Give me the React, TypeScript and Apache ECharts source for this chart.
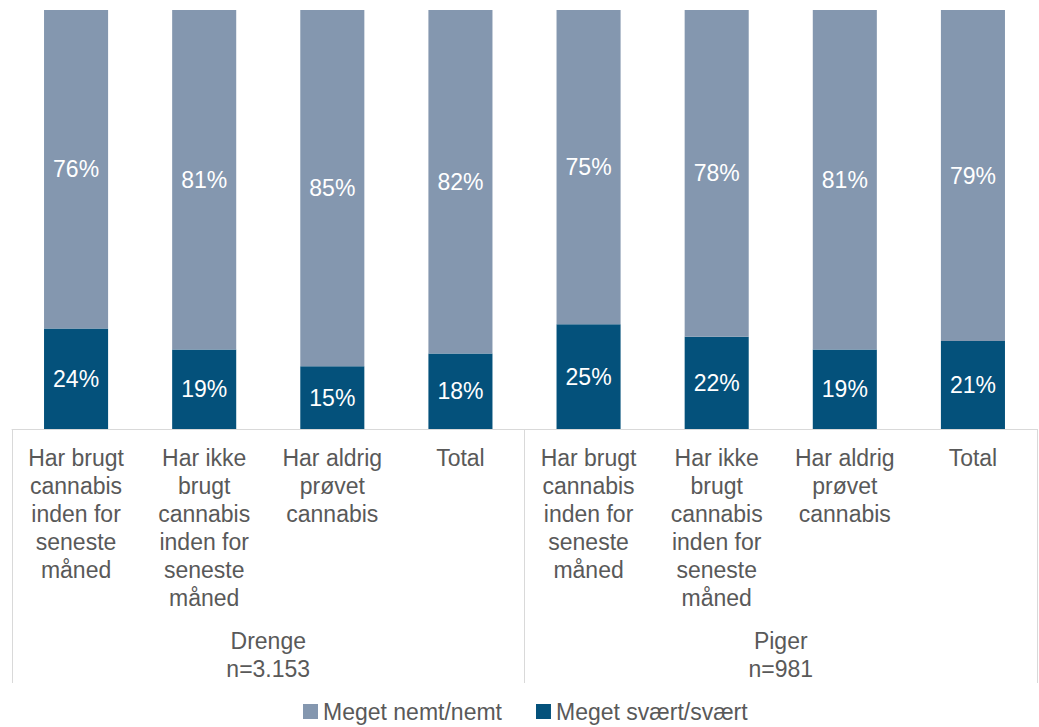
import React, { useEffect, useRef } from "react";
import * as echarts from "echarts";

const categories = [
  "Har brugt\ncannabis\ninden for\nseneste\nmåned",
  "Har ikke\nbrugt\ncannabis\ninden for\nseneste\nmåned",
  "Har aldrig\nprøvet\ncannabis",
  "Total",
  "Har brugt\ncannabis\ninden for\nseneste\nmåned",
  "Har ikke\nbrugt\ncannabis\ninden for\nseneste\nmåned",
  "Har aldrig\nprøvet\ncannabis",
  "Total",
];
const groups = ["Drenge\nn=3.153", "Piger\nn=981"];
const easyValues = [76, 81, 85, 82, 75, 78, 81, 79];
const hardValues = [24, 19, 15, 18, 25, 22, 19, 21];
const seriesNames = ["Meget nemt/nemt", "Meget svært/svært"];

const FONT = "'Liberation Sans', Arial, sans-serif";
const TEXT = "#595959";
const FS = 23;

export default function App() {
  const ref = useRef<HTMLDivElement>(null);
  useEffect(() => {
    if (!ref.current) return;
    const chart = echarts.init(ref.current, undefined, { renderer: "svg" });
    chart.setOption({
      animation: false,
      textStyle: { fontFamily: FONT },
      grid: { left: 12, right: 2, top: 10, bottom: 298, containLabel: false },
      legend: {
        data: seriesNames,
        left: 303,
        top: 700,
        padding: 0,
        icon: "rect",
        itemWidth: 15,
        itemHeight: 15,
        itemGap: 34,
        textStyle: { fontSize: FS, color: TEXT, fontFamily: FONT, padding: [0, 0, 0, 0] },
      },
      xAxis: [
        {
          type: "category",
          data: categories,
          position: "bottom",
          axisLine: { show: true, lineStyle: { color: "#D9D9D9", width: 1 } },
          axisTick: { show: false },
          axisLabel: {
            interval: 0,
            margin: 15,
            fontSize: FS,
            lineHeight: 28,
            color: TEXT,
            fontFamily: FONT,
            verticalAlign: "top",
          },
        },
        {
          type: "category",
          data: groups,
          position: "bottom",
          offset: 0,
          axisLine: { show: false },
          axisTick: { show: true, length: 254, lineStyle: { color: "#D9D9D9", width: 1 } },
          axisLabel: {
            interval: 0,
            margin: 198,
            fontSize: FS,
            lineHeight: 28,
            color: TEXT,
            fontFamily: FONT,
            verticalAlign: "top",
          },
        },
      ],
      yAxis: { type: "value", min: 0, max: 100, show: false },
      series: [
        {
          name: seriesNames[1],
          type: "bar",
          stack: "all",
          barWidth: "50%",
          data: hardValues,
          itemStyle: { color: "#04517B" },
          label: {
            show: true,
            position: "inside",
            formatter: "{c}%",
            color: "#FFFFFF",
            fontSize: FS,
            fontFamily: FONT,
          },
        },
        {
          name: seriesNames[0],
          type: "bar",
          stack: "all",
          barWidth: "50%",
          data: easyValues,
          itemStyle: { color: "#8497AF" },
          label: {
            show: true,
            position: "inside",
            formatter: "{c}%",
            color: "#FFFFFF",
            fontSize: FS,
            fontFamily: FONT,
          },
        },
      ],
    });
    return () => chart.dispose();
  }, []);
  return (
    <div
      ref={ref}
      style={{ position: "fixed", left: 0, top: 0, width: 1039, height: 727, background: "#fff" }}
    />
  );
}
